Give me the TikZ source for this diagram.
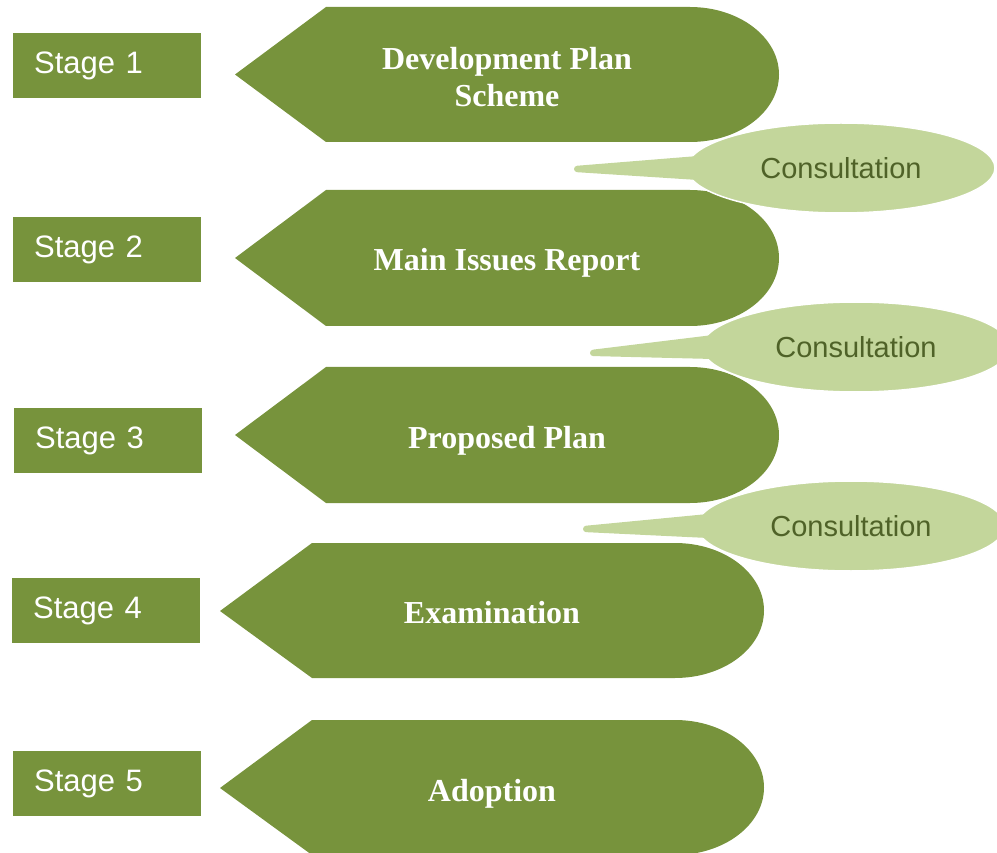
\documentclass[tikz,border=0pt]{standalone}
\usepackage{fontspec}
\setmainfont{Liberation Serif}
\newfontfamily\arialfont{Liberation Sans}
\usetikzlibrary{shapes.geometric,calc}
\definecolor{leaf}{HTML}{77933C}
\definecolor{pale}{HTML}{C3D69B}
\definecolor{moss}{HTML}{4F6228}
\tikzset{
  stagebox/.style={shape=rectangle, fill=leaf, anchor=north west, minimum height=65pt, text width=146pt, inner xsep=21pt, inner ysep=0pt, align=left, text=white, font=\arialfont\fontsize{31}{36}\selectfont},
  stepfill/.style={fill=leaf},
  steptext/.style={text=white, align=center, font=\fontsize{32}{37}\selectfont\bfseries},
  consult/.style={shape=ellipse, fill=pale, draw=white, line width=1.5pt, minimum width=308pt, minimum height=90pt, inner sep=0pt, text=moss, font=\arialfont\fontsize{29}{34}\selectfont},
  tail/.style={fill=pale, rounded corners=3pt}
}
\begin{document}
\begin{tikzpicture}[x=1pt, y=1pt, yscale=-1]
\useasboundingbox (0,0) rectangle (997,853);
% stages
\node[stagebox] (g1) at (13,33) {Stage 1};
\node[stagebox] (g2) at (13,217) {Stage 2};
\node[stagebox] (g3) at (14,408) {Stage 3};
\node[stagebox] (g4) at (12,578) {Stage 4};
\node[stagebox] (g5) at (13,751) {Stage 5};
% steps
\fill[stepfill] (235,74.5) -- (326,7) -- (690,7) arc (-90:90:89 and 67.5) -- (326,142) -- cycle;
\fill[stepfill] (235,258) -- (326,190) -- (690,190) arc (-90:90:89 and 68) -- (326,326) -- cycle;
\fill[stepfill] (235,435) -- (326,367) -- (690,367) arc (-90:90:89 and 68) -- (326,503) -- cycle;
\fill[stepfill] (220,611) -- (312,543) -- (675,543) arc (-90:90:89 and 67.5) -- (312,678) -- cycle;
\fill[stepfill] (220,788) -- (312,720) -- (675,720) arc (-90:90:89 and 67.5) -- (312,855) -- cycle;
\node[steptext] (p1) at (507,77.5) {Development Plan\\Scheme};
\node[steptext] (p2) at (507,263) {Main Issues Report};
\node[steptext] (p3) at (507,441) {Proposed Plan};
\node[steptext] (p4) at (492,612.5) {Examination};
\node[steptext] (p5) at (492,794) {Adoption};
% consultation callouts
\node[consult] (c1) at (841,168) {Consultation};
\node[consult] (c2) at (856,347) {Consultation};
\node[consult] (c3) at (851,526) {Consultation};
\coordinate (t1) at (574,169);
\coordinate (t2) at (590,353);
\coordinate (t3) at (583,529);
\fill[tail] ($(c1.center)+(-143,-12)$) -- ($(t1)+(0,-3)$) -- ($(t1)+(0,3)$) -- ($(c1.center)+(-143,12)$) -- cycle;
\fill[tail] ($(c2.center)+(-143,-12)$) -- ($(t2)+(0,-3)$) -- ($(t2)+(0,3)$) -- ($(c2.center)+(-143,12)$) -- cycle;
\fill[tail] ($(c3.center)+(-143,-12)$) -- ($(t3)+(0,-3)$) -- ($(t3)+(0,3)$) -- ($(c3.center)+(-143,12)$) -- cycle;
\end{tikzpicture}
\end{document}
